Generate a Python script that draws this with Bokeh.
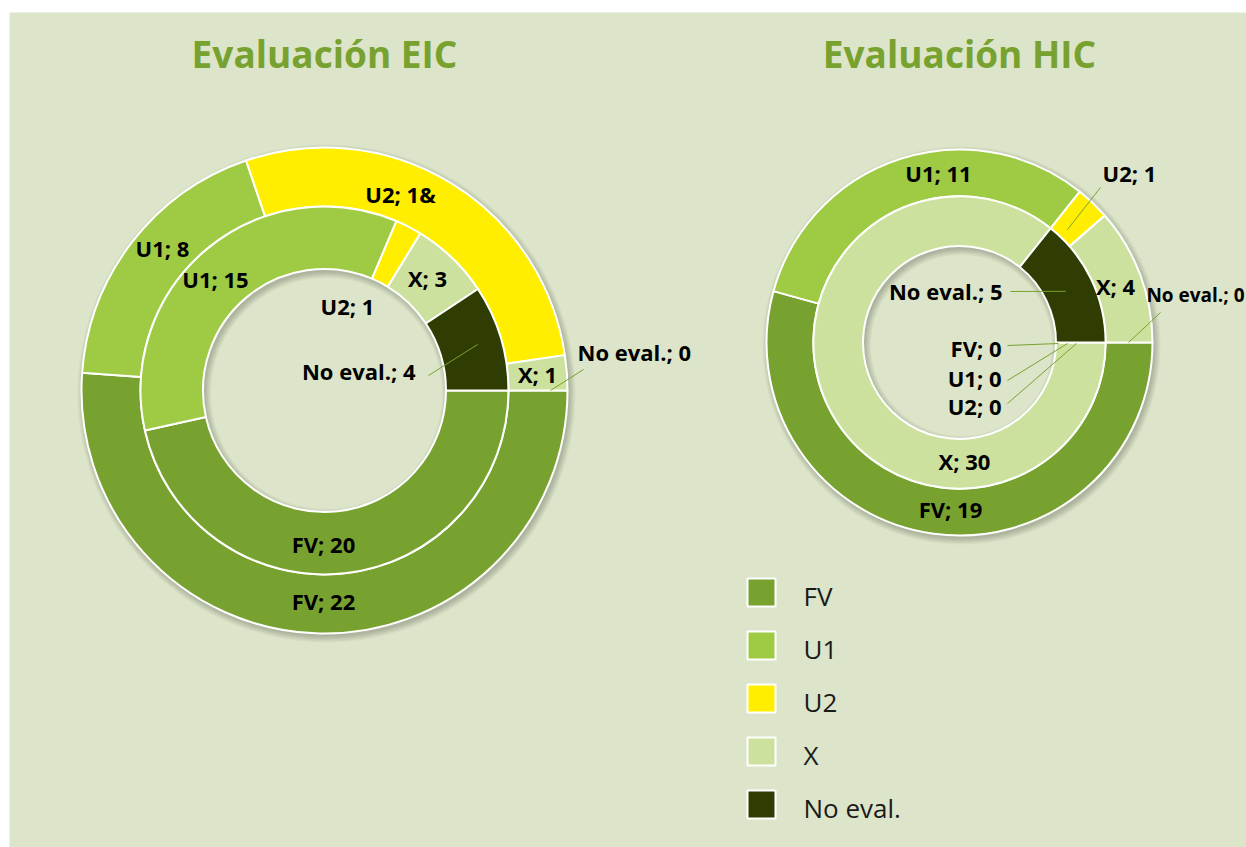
import math
from bokeh.plotting import figure
from bokeh.models import Range1d, ColumnDataSource
from bokeh.core.properties import value
from bokeh.embed import file_html
from bokeh.resources import INLINE

# ---------------- data ----------------
categories = ["FV", "U1", "U2", "X", "No eval."]
eic_outer = [22, 8, 12, 1, 0]
eic_inner = [20, 15, 1, 3, 4]
hic_outer = [19, 11, 1, 4, 0]
hic_inner = [0, 0, 0, 30, 5]
titles = ["Evaluación EIC", "Evaluación HIC"]
# label text as printed in the source graphic (the "12" shows as "1&")
eic_outer_text = ["FV; 22", "U1; 8", "U2; 1&", "X; 1", "No eval.; 0"]

# ---------------- style ----------------
colors = ["#78a22f", "#9fcb44", "#ffee00", "#cde19e", "#2f3d02"]
BG = "#dce5c9"
GREEN = "#78a22f"
FONT = "Open Sans"

W, H = 1246, 847
PX0, PY0 = 9, 12            # page position of the frame's top-left corner
FW, FH = W - PX0, H - PY0
YB = PY0 + FH               # page y of frame bottom


def Y(py):
    return YB - py


p = figure(width=W, height=H, x_range=Range1d(PX0, PX0 + FW), y_range=Range1d(0, FH),
           x_axis_type=None, y_axis_type=None, output_backend="svg", toolbar_location=None,
           background_fill_color=BG, border_fill_color="white", outline_line_color=None,
           min_border_left=PX0, min_border_top=PY0, min_border_right=0, min_border_bottom=0)
p.grid.visible = False

# donut layouts: centre (page px), outer radius, ring ratios
donuts = [
    dict(cx=324, cy=390, r=243, outer=eic_outer, inner=eic_inner, title=titles[0]),
    dict(cx=959, cy=342, r=193, outer=hic_outer, inner=hic_inner, title=titles[1]),
]
MID_RATIO, HOLE_RATIO = 0.757, 0.500


def draw_ring(cx, cy, r_in, r_out, vals):
    tot = sum(vals)
    cum = 0
    xs, ys, sa, ea, fc = [], [], [], [], []
    for v, c in zip(vals, colors):
        if v > 0:
            a0 = cum / tot * 2 * math.pi
            a1 = (cum + v) / tot * 2 * math.pi
            xs.append(cx); ys.append(Y(cy))
            sa.append(-a1); ea.append(-a0); fc.append(c)
        cum += v
    src = ColumnDataSource(dict(x=xs, y=ys, sa=sa, ea=ea, fc=fc))
    p.annular_wedge(x="x", y="y", inner_radius=r_in, outer_radius=r_out,
                    start_angle="sa", end_angle="ea", direction="anticlock",
                    fill_color="fc", line_color="white", line_width=2, source=src)


def mid_point(cx, cy, rad, vals, i):
    tot = sum(vals)
    cum = sum(vals[:i])
    mid = (cum + vals[i] / 2) / tot * 2 * math.pi
    return cx + rad * math.cos(mid), cy + rad * math.sin(mid)


# shadows
for d in donuts:
    cx, cy, r = d["cx"], d["cy"], d["r"]
    rh = r * HOLE_RATIO
    for k in range(7):
        p.annulus(x=cx + 2, y=Y(cy + 3), inner_radius=rh - k, outer_radius=r + k,
                  fill_color="black", fill_alpha=0.03, line_color=None)

for d in donuts:
    cx, cy, r = d["cx"], d["cy"], d["r"]
    draw_ring(cx, cy, r * MID_RATIO, r, d["outer"])
    draw_ring(cx, cy, r * HOLE_RATIO, r * MID_RATIO, d["inner"])
    p.text(x=[cx], y=[Y(53)], text=[d["title"]], text_font=value(FONT), text_font_style="bold",
           text_font_size="37px", text_color=GREEN, text_align="center", text_baseline="middle")

# ---------------- data labels ----------------
# (donut, ring, index, label x, label y, align, leader start or None, leader anchor radius, size)
label_layout = [
    (0, "outer", 0, 323, 600, "center", None, None, 22),
    (0, "outer", 1, 162, 247, "center", None, None, 22),
    (0, "outer", 2, 400, 193, "center", None, None, 22),
    (0, "outer", 3, 537, 373, "center", None, None, 22),
    (0, "outer", 4, 577, 351, "left", (583, 369), 226, 22),
    (0, "inner", 0, 323, 543, "center", None, None, 22),
    (0, "inner", 1, 215, 278, "center", None, None, 22),
    (0, "inner", 2, 347, 305, "center", None, None, 22),
    (0, "inner", 3, 427, 277, "center", None, None, 22),
    (0, "inner", 4, 415, 370, "right", (428, 375), 160, 22),
    (1, "outer", 0, 950, 508, "center", None, None, 22),
    (1, "outer", 1, 938, 172, "center", None, None, 22),
    (1, "outer", 2, 1102, 172, "left", (1100, 187), 156, 22),
    (1, "outer", 3, 1115, 285, "center", None, None, 22),
    (1, "outer", 4, 1244, 294, "right", (1160, 312), 169, 19),
    (1, "inner", 0, 1001, 347, "right", (1007, 345), 99, 22),
    (1, "inner", 1, 1001, 377, "right", (1007, 380), 108, 22),
    (1, "inner", 2, 1001, 405, "right", (1007, 403), 117, 22),
    (1, "inner", 3, 964, 460, "center", None, None, 22),
    (1, "inner", 4, 1002, 290, "right", (1010, 291), 118, 22),
]

sx0, sy0, sx1, sy1 = [], [], [], []
groups = {}
for di, ring, i, x, y, al, start, arad, fs in label_layout:
    d = donuts[di]
    vals = d[ring]
    if di == 0 and ring == "outer":
        txt = eic_outer_text[i]
    else:
        txt = f"{categories[i]}; {vals[i]}"
    g = groups.setdefault((al, fs), ([], [], []))
    g[0].append(x); g[1].append(Y(y)); g[2].append(txt)
    if start is not None:
        ax, ay = mid_point(d["cx"], d["cy"], arad, vals, i)
        if vals[i] == 0 and sum(vals[:i]) == 0:
            ax, ay = d["cx"] + arad, d["cy"] + 1
        sx0.append(start[0]); sy0.append(Y(start[1])); sx1.append(ax); sy1.append(Y(ay))

p.segment(x0=sx0, y0=sy0, x1=sx1, y1=sy1, line_color=GREEN, line_width=1)

for (al, fs), (gx, gy, gt) in groups.items():
    p.text(x=gx, y=gy, text=gt,
           text_font=value(FONT), text_font_style="bold", text_font_size=f"{fs}px",
           text_color="#000000", text_align=al, text_baseline="middle")

# ---------------- legend ----------------
leg_x, leg_y0, leg_dy = 761, 592, 53
p.rect(x=[leg_x] * 5, y=[Y(leg_y0 + k * leg_dy) for k in range(5)], width=28, height=28,
       fill_color=colors, line_color="white", line_width=2)
p.text(x=[803] * 5, y=[Y(leg_y0 + 3 + k * leg_dy) for k in range(5)], text=categories,
       text_font=value(FONT), text_font_size="26px", text_color="#1a1a1a",
       text_align="left", text_baseline="middle")

open("out.html", "w").write(file_html(p, INLINE))
